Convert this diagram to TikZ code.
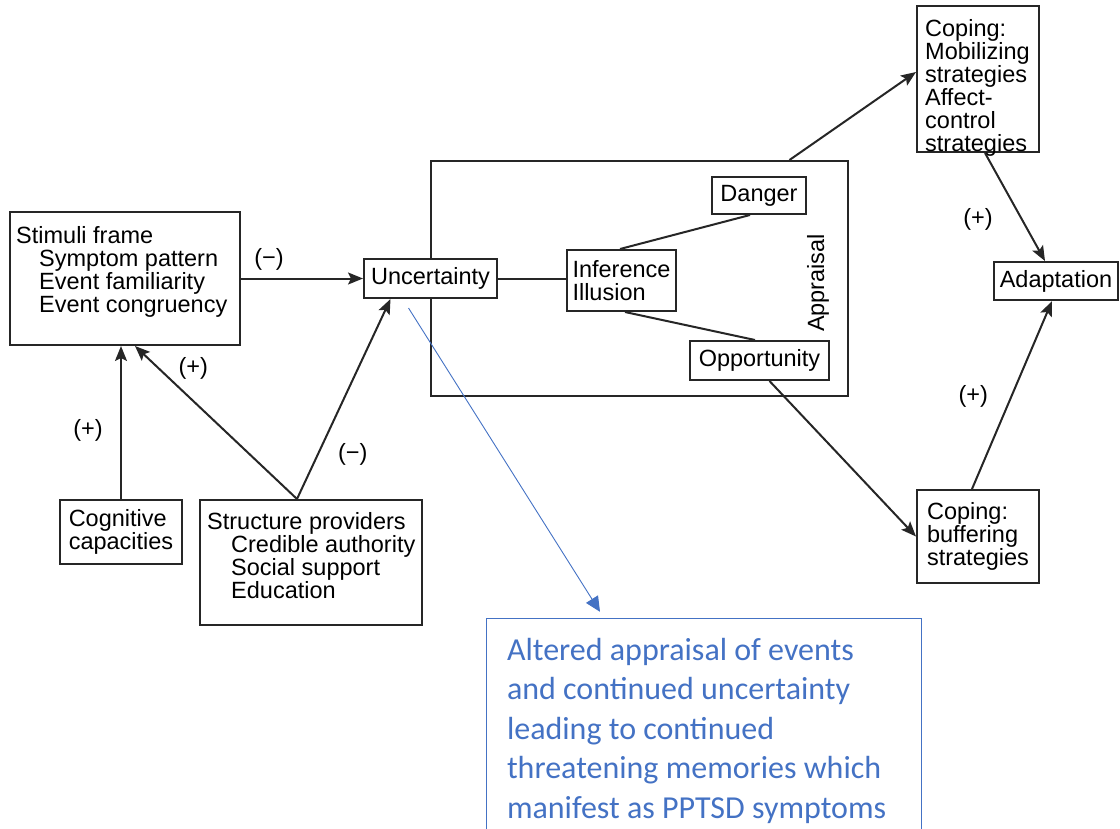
\documentclass[tikz,border=0pt]{standalone}
\usepackage{fontspec}
\setmainfont{Liberation Sans}
\newfontfamily\notefamily{Carlito}
\usetikzlibrary{positioning}
\usetikzlibrary{arrows.meta}
\definecolor{noteblue}{RGB}{68,114,196}
\newcommand{\diagfont}{\fontsize{23.5pt}{23pt}\selectfont}
\newcommand{\notefont}{\notefamily\fontsize{32pt}{39.5pt}\selectfont}
\tikzset{every node/.style={font=\diagfont},
  box/.style={             % boxes of the model
    draw=black!85, line width=2pt, fill=white,
    align=left, inner xsep=6pt, inner ysep=0pt},
  boxtext/.style={align=left, inner sep=0pt},
  link/.style={draw=black!85, line width=2pt},
  arrow/.style={link, -{Stealth[length=15pt,width=12pt,inset=3pt]}},
  sign/.style={inner sep=0pt},   % (+) and (-) on the arrows
  notetext/.style={font=\notefont, text=noteblue, align=left, inner sep=0pt},
  noteline/.style={draw=noteblue, line width=0.9pt},
  notearrow/.style={noteline, -{Triangle[length=15pt,width=14pt]}}}
\begin{document}
\begin{tikzpicture}[x=1pt, y=-1pt]
  \useasboundingbox (0,0) rectangle (1120,828);

  % appraisal frame first, Uncertainty sits on its left edge
  \node [box, minimum width=417pt, minimum height=235pt] (appr) at (639.5,278.5) {};
  \node [rotate=90] (apprlbl) at (818,283) {Appraisal};

  \node [box, minimum width=230pt, minimum height=133pt] (stim) at (125,278.5) {};
  \node [boxtext, anchor=north west] (stimtxt) at ([shift={(7pt,-15pt)}]stim.north west) {
    Stimuli frame\\
    \hspace*{23pt}Symptom pattern\\
    \hspace*{23pt}Event familiarity\\
    \hspace*{23pt}Event congruency};

  \node [box, minimum width=133pt, minimum height=39pt] (unc) at (430.5,278.5) {Uncertainty};
  \node [box, minimum width=109pt, minimum height=61pt] (infer) at (621.5,280.5) {Inference\\ Illusion};
  \node [box, minimum width=94pt, minimum height=37pt] (danger) at (759,195.5) {Danger};
  \node [box, minimum width=139pt, minimum height=39pt] (opp) at (759.5,360.5) {Opportunity};

  \node [box, minimum width=122pt, minimum height=64pt] (cog) at (121,532) {Cognitive\\ capacities};
  \node [box, minimum width=222pt, minimum height=125pt] (struct) at (311,562.5) {};
  \node [boxtext, anchor=north west] (structtxt) at ([shift={(8pt,-13pt)}]struct.north west) {
    Structure providers\\
    \hspace*{24pt}Credible authority\\
    \hspace*{24pt}Social support\\
    \hspace*{24pt}Education};

  \node [box, minimum width=122pt, minimum height=146pt] (copm) at (978,79) {};
  \node [boxtext, anchor=north west] (copmtxt) at ([shift={(9pt,-14pt)}]copm.north west) {
    Coping:\\ Mobilizing\\ strategies\\ Affect-\\ control\\ strategies};
  \node [box, minimum width=122pt, minimum height=93pt] (copb) at (978,536.5) {
    Coping:\\ buffering\\ strategies};
  \node [box, minimum width=124pt, minimum height=38pt] (adapt) at (1056,281) {Adaptation};

  % antecedents
  \draw [arrow] (stim.east) -- node [sign, pos=0.23, yshift=19pt] {(−)} (unc.west);
  \draw [arrow] (cog.north) -- node [sign, pos=0.45, xshift=-33pt] {(+)} (cog.north |- stim.south);
  \coordinate (fork) at ([xshift=-14pt]struct.north);
  \draw [arrow] (fork) -- node [sign, pos=0.64, yshift=33pt] {(+)} ([xshift=10pt]stim.south);
  \draw [arrow] (fork) -- node [sign, pos=0.223, xshift=35pt] {(−)} ([xshift=-40pt]unc.south);

  % inside the appraisal
  \draw [link] (unc.east) -- (unc.east -| infer.west);
  \draw [link] ([xshift=-1.5pt]infer.north) -- ([xshift=-9pt]danger.south);
  \draw [link] ([xshift=3.5pt]infer.south) -- ([xshift=-4.5pt]opp.north);

  % coping and adaptation
  \draw [arrow] ([xshift=150pt]appr.north) -- ([yshift=7pt]copm.west);
  \draw [arrow] ([xshift=10pt]opp.south) -- (copb.west);
  \draw [arrow] ([xshift=7pt]copm.south) -- node [sign, pos=0.618, xshift=-44pt] {(+)} ([xshift=-11pt]adapt.north);
  \draw [arrow] ([xshift=-6pt]copb.north) -- node [sign, pos=0.49, xshift=-38pt] {(+)} ([xshift=-4pt]adapt.south);

  % added note, open at the bottom
  \node [minimum width=434pt, minimum height=221pt, inner sep=0pt] (note) at (704,729.5) {};
  \draw [noteline] (note.south west) -- (note.north west) -- (note.north east) -- (note.south east);
  \node [notetext, anchor=north west] (notetxt) at ([shift={(20pt,-19pt)}]note.north west) {
    Altered appraisal of events\\
    and continued uncertainty\\
    leading to continued\\
    threatening memories which\\
    manifest as PPTSD symptoms};
  \draw [notearrow] ([xshift=-22pt,yshift=-9pt]unc.south) -- ([xshift=-104pt,yshift=7pt]note.north);
\end{tikzpicture}
\end{document}
